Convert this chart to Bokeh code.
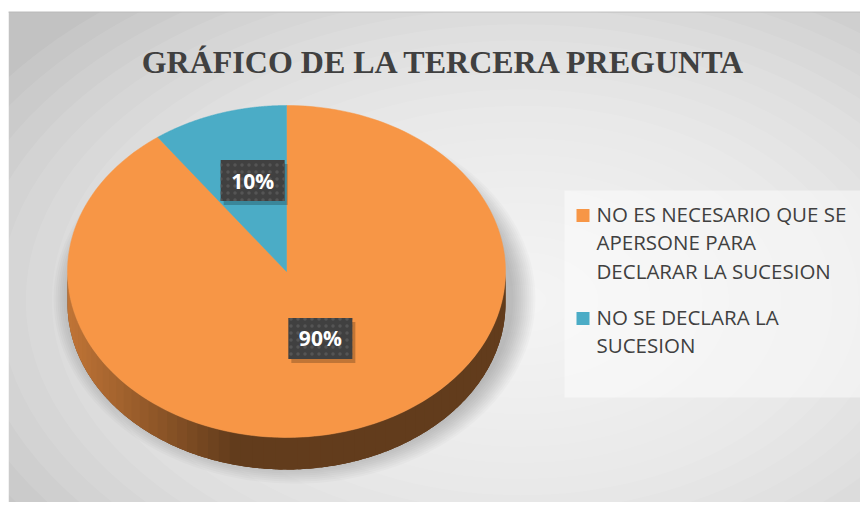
import numpy as np
from bokeh.plotting import figure
from bokeh.models import Range1d
from bokeh.embed import file_html
from bokeh.resources import INLINE
from bokeh.core.properties import value

# ---------------- data ----------------
title_text = "GRÁFICO DE LA TERCERA PREGUNTA"
categories = ["NO ES NECESARIO QUE SE APERSONE PARA DECLARAR LA SUCESION",
              "NO SE DECLARA LA SUCESION"]
legend_lines = [["NO ES NECESARIO QUE SE", "APERSONE PARA", "DECLARAR LA SUCESION"],
                ["NO SE DECLARA LA", "SUCESION"]]
values = [90, 10]
colors = ["#F79646", "#4BACC6"]

# ---------------- layout ----------------
W, H = 860, 502
p = figure(width=W, height=H, x_range=Range1d(0, W), y_range=Range1d(H, 0),
           output_backend="svg", toolbar_location=None, min_border=0)
p.axis.visible = False
p.grid.visible = False
p.outline_line_color = None
p.background_fill_color = "white"
p.border_fill_color = "white"

# background with radial gradient approximation
p.quad(left=8, right=W + 5, top=11, bottom=H + 5, fill_color="#c2c2c2", line_color=None)
gcx, gcy = 520, 300
n = 24
for k in range(n):
    s = 1.0 - k / n
    p.ellipse(x=gcx, y=gcy, width=1250 * s, height=780 * s,
              fill_color="white", fill_alpha=0.085, line_color=None)
# keep top strip and left margin white
p.quad(left=-5, right=W + 5, top=-5, bottom=11, fill_color="white", line_color=None)
p.quad(left=-5, right=8, top=-5, bottom=H + 5, fill_color="white", line_color=None)
p.quad(left=8, right=W + 5, top=11, bottom=12.2, fill_color="#b8b8b8",
       fill_alpha=0.6, line_color=None)

# pie geometry
cx, cy, rx, ry, depth = 286, 271, 219, 166, 32

# soft shadow
for k in range(12):
    p.ellipse(x=cx + 8, y=cy + depth * 0.6 + 8, width=2 * rx + 44 - 4 * k,
              height=2 * ry + 38 - 4 * k, fill_color="black", fill_alpha=0.02,
              line_color=None)

total = float(sum(values))
fracs = [v / total for v in values]
# slices go clockwise from the top (90 deg)
starts, ends = [], []
a = 90.0
for f in fracs:
    starts.append(a)
    a -= 360 * f
    ends.append(a)


def slice_of(theta):
    th = theta % 360
    for i, (s0, e0) in enumerate(zip(starts, ends)):
        lo, hi = e0 % 360, s0 % 360
        if lo < hi:
            if lo <= th <= hi:
                return i
        else:
            if th >= lo or th <= hi:
                return i
    return 0


def hex_to_rgb(h):
    h = h.lstrip("#")
    return tuple(int(h[i:i + 2], 16) for i in (0, 2, 4))


def shade(col, f):
    r, g, b = hex_to_rgb(col)
    return "#%02x%02x%02x" % (int(r * f), int(g * f), int(b * f))


def ex(t):
    return cx + rx * np.cos(np.radians(t))


def ey(t):
    return cy - ry * np.sin(np.radians(t))


# side of the pie (front half): base shape first, then gradient strips on top
tt = np.linspace(180, 360, 300)
base_x = list(ex(tt)) + list(ex(tt[::-1]))
base_y = list(ey(tt)) + list(ey(tt[::-1]) + depth)
p.patch(x=base_x, y=base_y, fill_color=shade(colors[0], 0.40), line_color=None)

N = 60
ts = np.linspace(180, 360, N + 1)
sxs, sys_, scol = [], [], []
for t0, t1 in zip(ts[:-1], ts[1:]):
    t1e = min(t1 + 2.0, 360)
    seg = np.linspace(t0, t1e, 8)
    xs_ = list(ex(seg)) + list(ex(seg[::-1]))
    ys_ = list(ey(seg)) + list(ey(seg[::-1]) + depth)
    u = (ex((t0 + t1) / 2) - (cx - rx)) / (2 * rx)
    f = 0.78 - (0.78 - 0.40) * min(u / 0.38, 1.0)
    sxs.append(xs_)
    sys_.append(ys_)
    scol.append(shade(colors[slice_of((t0 + t1) / 2)], f))
p.patches(xs=sxs, ys=sys_, fill_color=scol, line_color=None)

# top face
txs, tys = [], []
for s0, e0 in zip(starts, ends):
    ta = np.linspace(s0, e0, 200)
    txs.append([cx] + list(ex(ta)))
    tys.append([cy] + list(ey(ta)))
p.patches(xs=txs, ys=tys, fill_color=colors, line_color=colors, line_width=0.5)

# data labels
lx, ly, lt = [], [], []
for s0, e0, v in zip(starts, ends, values):
    m = (s0 + e0) / 2
    lx.append(cx + 0.5 * rx * np.cos(np.radians(m)))
    ly.append(cy - 0.5 * ry * np.sin(np.radians(m)) - 12)
    lt.append("%d%%" % round(100 * v / total))
p.rect(x=[x + 3 for x in lx], y=[y + 4 for y in ly], width=64, height=41,
       fill_color="black", fill_alpha=0.22, line_color=None)
p.rect(x=lx, y=ly, width=64, height=41, fill_color="#404040", line_color=None,
       hatch_pattern="dot", hatch_color="#555555", hatch_scale=7, hatch_weight=1.5)
p.text(x=lx, y=ly, text=lt, text_align="center", text_baseline="middle",
       text_font=value("Open Sans"), text_font_style="bold",
       text_font_size="21px", text_color="white")

# title
p.text(x=[444], y=[61], text=[title_text], text_align="center",
       text_baseline="alphabetic", text_font=value("Liberation Serif"),
       text_font_style="bold", text_font_size="32px", text_color="#404040")

# legend
p.quad(left=564, right=860, top=190, bottom=397, fill_color="white",
       fill_alpha=0.45, line_color=None)
line_h, gap = 28.5, 17.5
y0 = 213
sq_x, sq_y, txt_x, txt_y, txt = [], [], [], [], []
yc = y0
for lines in legend_lines:
    sq_y.append(yc + 2)
    sq_x.append(582.5)
    for ln in lines:
        txt_x.append(596)
        txt_y.append(yc)
        txt.append(ln)
        yc += line_h
    yc += gap
p.rect(x=sq_x, y=sq_y, width=13, height=13, fill_color=colors, line_color=None)
p.text(x=txt_x, y=txt_y, text=txt, text_align="left", text_baseline="middle",
       text_font=value("Open Sans"), text_font_size="20.5px", text_color="#404040")

open("out.html", "w").write(file_html(p, INLINE))
